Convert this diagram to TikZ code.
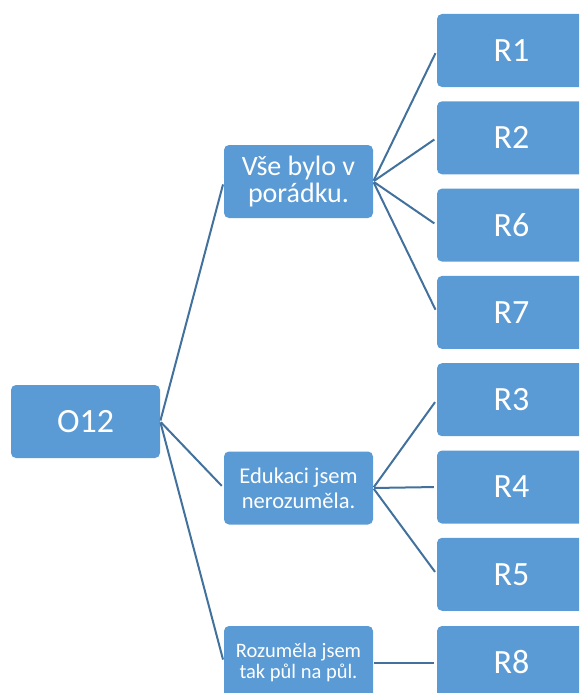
\documentclass[tikz,border=0pt]{standalone}
\usepackage{fontspec}
\setmainfont{Carlito}
\definecolor{boxblue}{RGB}{91,155,213}
\definecolor{lineblue}{RGB}{65,113,156}
\tikzset{
  box/.style={rectangle,rounded corners=5pt,fill=boxblue,text=white,
    minimum width=149pt,minimum height=73pt,inner sep=2pt,align=center},
}
\begin{document}
\begin{tikzpicture}[x=1pt,y=-1pt]
      \useasboundingbox (0,0) rectangle (579,693);
      \clip (0,0) rectangle (579,693);
      \begin{scope}[every node/.style={box}]
      \node[font=\fontsize{34}{34}\selectfont] (o12) at (85.5,421.5) {O12};
      \node[font=\fontsize{28}{26.5}\selectfont] (vse) at (298.5,181.5) {Vše bylo v\\porádku.};
      \node[font=\fontsize{22.5}{25}\selectfont] (edu) at (298.5,488) {Edukaci jsem\\nerozuměla.};
      \node[font=\fontsize{20.5}{21.5}\selectfont] (roz) at (298.5,662.5) {Rozuměla jsem\\tak půl na půl.};
      \end{scope}
      \begin{scope}[every node/.style={box,font=\fontsize{34}{34}\selectfont}]
      \node (r1) at (511.5,50.5) {R1};
      \node (r2) at (511.5,137.8) {R2};
      \node (r6) at (511.5,225.1) {R6};
      \node (r7) at (511.5,312.4) {R7};
      \node (r3) at (511.5,399.7) {R3};
      \node (r4) at (511.5,487) {R4};
      \node (r5) at (511.5,574.3) {R5};
      \node (r8) at (511.5,662.5) {R8};
      \end{scope}
      \begin{scope}[every edge/.style={draw=lineblue,line width=2pt,shorten <=1pt,shorten >=3pt}]
      \path (o12.east) edge (vse.west);
      \path (o12.east) edge (edu.west);
      \path (o12.east) edge (roz.west);
      \path (vse.east) edge (r1.west);
      \path (vse.east) edge (r2.west);
      \path (vse.east) edge (r6.west);
      \path (vse.east) edge (r7.west);
      \path (edu.east) edge (r3.west);
      \path (edu.east) edge (r4.west);
      \path (edu.east) edge (r5.west);
      \path (roz.east) edge (r8.west);
      \end{scope}
      \end{tikzpicture}
\end{document}
